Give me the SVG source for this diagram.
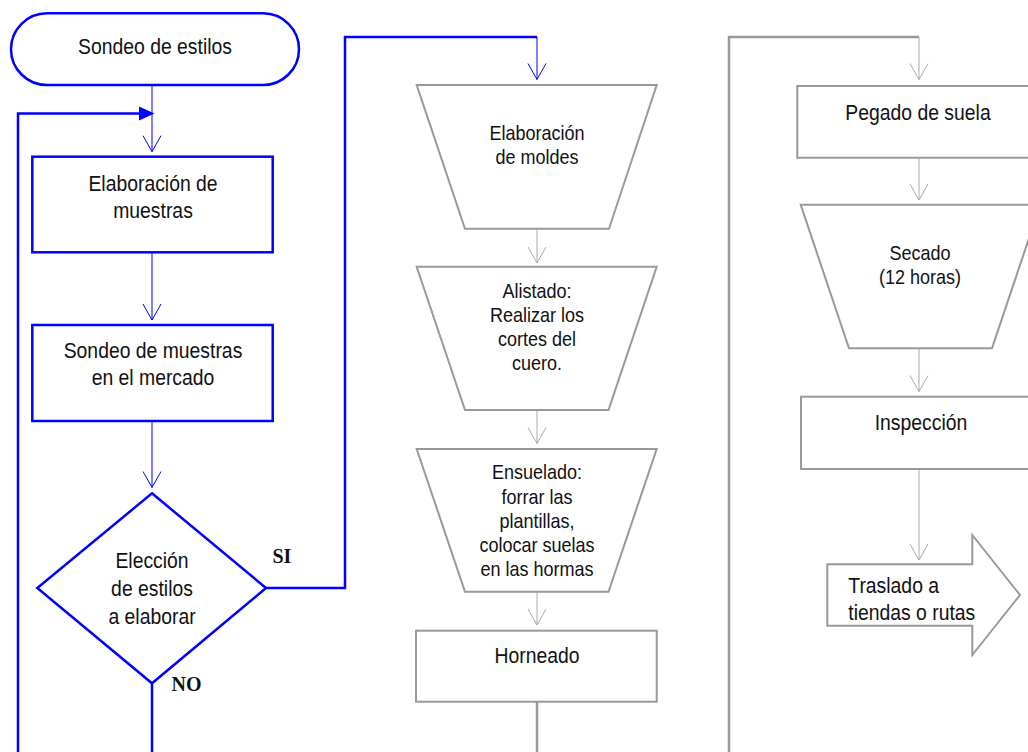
<svg xmlns="http://www.w3.org/2000/svg" width="1028" height="752" viewBox="0 0 1028 752">
  <style>
    .blue { fill: #ffffff; stroke: #0000ff; stroke-width: 2.5; }
    .gray { fill: #ffffff; stroke: #999999; stroke-width: 2; }
    .lbl { font-family: "Liberation Sans", Arial, sans-serif; font-size: 22px; fill: #111111; text-anchor: middle; }
    .lbl.sm { font-size: 20.5px; }
    .lbl.left { text-anchor: start; }
    .tag { font-family: "Liberation Serif", "Times New Roman", serif; font-weight: bold; font-size: 20px; fill: #111111; }
    .c-blue { fill: none; stroke: #0000ff; stroke-width: 1; }
    .c-gray { fill: none; stroke: #aaaaaa; stroke-width: 1; }
    .w-blue { fill: none; stroke: #0000ff; stroke-width: 2.5; }
    .w-gray { fill: none; stroke: #999999; stroke-width: 2.5; }
  </style>
  <defs>
    <marker id="vb" markerUnits="userSpaceOnUse" markerWidth="20" markerHeight="20" viewBox="-18 -10 20 20" refX="0" refY="0" orient="auto" overflow="visible">
      <path d="M-16,-9 L0,0 L-16,9" fill="none" stroke="#0000ff" stroke-width="1"/>
    </marker>
    <marker id="vg" markerUnits="userSpaceOnUse" markerWidth="20" markerHeight="20" viewBox="-18 -10 20 20" refX="0" refY="0" orient="auto" overflow="visible">
      <path d="M-16,-9 L0,0 L-16,9" fill="none" stroke="#aaaaaa" stroke-width="1"/>
    </marker>
  </defs>
  <rect width="1028" height="752" fill="#ffffff"/>

  <!-- connectors -->
  <g id="connectors">
    <!-- loop back from NO -->
    <path class="w-blue" d="M18,752 V113.5 H140" stroke-width="3"/>
    <polygon points="139,106.5 154.5,113.5 139,120.5" fill="#0000ff"/>
    <!-- NO exit -->
    <path class="w-blue" d="M152,683 V752"/>
    <!-- SI branch to column two -->
    <path class="w-blue" d="M266,588 H345 V37 H537"/>
    <path class="c-blue" d="M537,37 V79.5" marker-end="url(#vb)"/>
    <!-- left column -->
    <path class="c-blue" d="M152,85 V151.7" marker-end="url(#vb)"/>
    <path class="c-blue" d="M152,252 V320" marker-end="url(#vb)"/>
    <path class="c-blue" d="M152,421 V487.5" marker-end="url(#vb)"/>
    <!-- middle column -->
    <path class="c-gray" d="M537,229 V263" marker-end="url(#vg)"/>
    <path class="c-gray" d="M537,410 V443.5" marker-end="url(#vg)"/>
    <path class="c-gray" d="M537,592 V625" marker-end="url(#vg)"/>
    <path class="w-gray" d="M537,702 V752" stroke-width="2"/>
    <!-- right column -->
    <path class="w-gray" d="M729,752 V37 H919"/>
    <path class="c-gray" d="M919,37 V79.5" marker-end="url(#vg)"/>
    <path class="c-gray" d="M919,158 V200" marker-end="url(#vg)"/>
    <path class="c-gray" d="M919,348 V391.5" marker-end="url(#vg)"/>
    <path class="c-gray" d="M919,469 V560" marker-end="url(#vg)"/>
  </g>

  <!-- left column -->
  <g id="inicio">
    <rect class="blue" x="11" y="13.3" width="288" height="71.7" rx="36" ry="36"/>
    <text class="lbl" transform="translate(155,54) scale(0.88,1)">Sondeo de estilos</text>
  </g>
  <g id="elaboracion-muestras">
    <rect class="blue" x="32.3" y="156.7" width="240.4" height="95.6"/>
    <text class="lbl" transform="translate(153,190.7) scale(0.88,1)"><tspan x="0" y="0">Elaboración de</tspan><tspan x="0" y="27.3">muestras</tspan></text>
  </g>
  <g id="sondeo-muestras">
    <rect class="blue" x="32.3" y="325" width="240.4" height="96"/>
    <text class="lbl" transform="translate(153,357.7) scale(0.88,1)"><tspan x="0" y="0">Sondeo de muestras</tspan><tspan x="0" y="27.3">en el mercado</tspan></text>
  </g>
  <g id="eleccion">
    <polygon class="blue" points="152,493.3 266,588 152,683.3 37.3,588"/>
    <text class="lbl" transform="translate(152,568) scale(0.88,1)"><tspan x="0" y="0">Elección</tspan><tspan x="0" y="28">de estilos</tspan><tspan x="0" y="56">a elaborar</tspan></text>
    <text class="tag" x="272.5" y="563.3">SI</text>
    <text class="tag" x="171.5" y="690.7">NO</text>
  </g>

  <!-- middle column -->
  <g id="moldes">
    <polygon class="gray" points="416.7,85 656.7,85 609,228.8 465,228.8"/>
    <text class="lbl sm" transform="translate(537,140) scale(0.88,1)"><tspan x="0" y="0">Elaboración</tspan><tspan x="0" y="24">de moldes</tspan></text>
  </g>
  <g id="alistado">
    <polygon class="gray" points="416.7,266.7 656.7,266.7 608.5,410 465,410"/>
    <text class="lbl sm" transform="translate(537,298.3) scale(0.88,1)"><tspan x="0" y="0">Alistado:</tspan><tspan x="0" y="24">Realizar los</tspan><tspan x="0" y="48">cortes del</tspan><tspan x="0" y="72">cuero.</tspan></text>
  </g>
  <g id="ensuelado">
    <polygon class="gray" points="416.7,449 656.7,449 608.5,591.7 465,591.7"/>
    <text class="lbl sm" transform="translate(537,479.3) scale(0.88,1)"><tspan x="0" y="0">Ensuelado:</tspan><tspan x="0" y="24.3">forrar las</tspan><tspan x="0" y="48.6">plantillas,</tspan><tspan x="0" y="72.9">colocar suelas</tspan><tspan x="0" y="97.2">en las hormas</tspan></text>
  </g>
  <g id="horneado">
    <rect class="gray" x="416" y="630.7" width="240.7" height="71"/>
    <text class="lbl" transform="translate(537,663.3) scale(0.88,1)">Horneado</text>
  </g>

  <!-- right column -->
  <g id="pegado">
    <rect class="gray" x="797.3" y="86" width="250" height="71.7"/>
    <text class="lbl" transform="translate(918,120) scale(0.88,1)">Pegado de suela</text>
  </g>
  <g id="secado">
    <polygon class="gray" points="800.7,204.7 1040.3,204.7 992,348.3 849,348.3"/>
    <text class="lbl sm" transform="translate(920,260) scale(0.88,1)"><tspan x="0" y="0">Secado</tspan><tspan x="0" y="24">(12 horas)</tspan></text>
  </g>
  <g id="inspeccion">
    <rect class="gray" x="801" y="396.7" width="250" height="72.3"/>
    <text class="lbl" transform="translate(921,430) scale(0.88,1)">Inspección</text>
  </g>
  <g id="traslado">
    <polygon class="gray" points="827.3,564.3 972.3,564.3 972.3,535 1020,595 972.3,655 972.3,625.7 827.3,625.7"/>
    <text class="lbl left" transform="translate(848.3,593.3) scale(0.88,1)"><tspan x="0" y="0">Traslado a</tspan><tspan x="0" y="26.7">tiendas o rutas</tspan></text>
  </g>
</svg>
